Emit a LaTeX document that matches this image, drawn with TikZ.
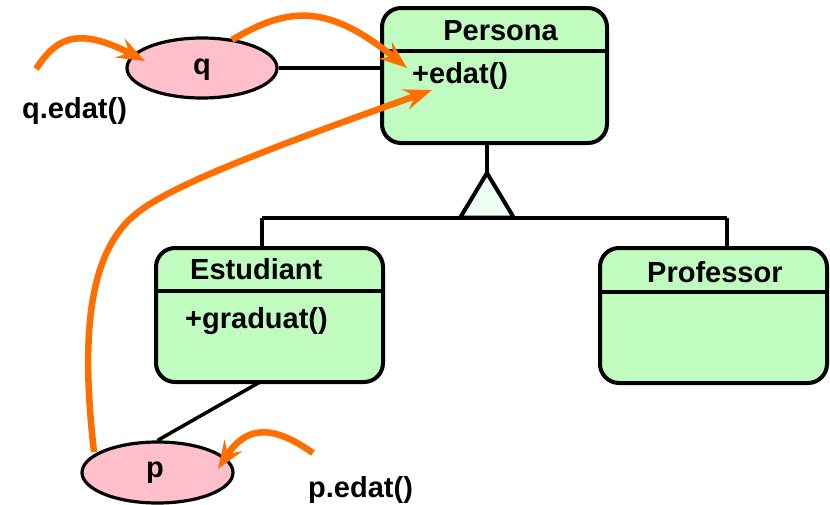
\documentclass[tikz,border=0pt]{standalone}
\usepackage{fontspec}
\setmainfont{Liberation Sans}
\usetikzlibrary{arrows.meta,shapes.geometric}
\definecolor{clsfill}{RGB}{192,252,192}
\definecolor{objfill}{RGB}{255,192,203}
\definecolor{trifill}{RGB}{240,255,244}
\definecolor{callcol}{RGB}{255,110,0}
\begin{document}
\begin{tikzpicture}[x=1pt,y=-1pt,
  every node/.style={font=\fontsize{29}{34}\selectfont\bfseries, inner sep=0pt},
  cls/.style={draw, line width=4pt, fill=clsfill, rounded corners=19pt, rectangle},
  obj/.style={draw, line width=3.2pt, fill=objfill, ellipse},
  link/.style={line width=3.5pt},
  call/.style={draw=callcol, line width=6.5pt, line cap=butt, -{Stealth[length=28pt,width=21pt,inset=10pt]}},
  lbl/.style={anchor=base west},
]
\useasboundingbox (0,0) rectangle (830,504);
% classes
\node[cls, minimum width=225pt, minimum height=135pt] (persona) at (494.5,75.5) {};
\draw[link] ([yshift=-45pt]persona.north west) -- ([yshift=-45pt]persona.north east);
\node[anchor=base] (personaT) at (500.5,40) {Persona};
\node[lbl] (edat) at (412,83) {+edat()};

\node[cls, minimum width=227pt, minimum height=134pt] (estud) at (269.5,315) {};
\draw[link] ([yshift=-45pt]estud.north west) -- ([yshift=-45pt]estud.north east);
\node[lbl] (estudT) at (190,279) {Estudiant};
\node[lbl] (grad) at (185,328) {+graduat()};

\node[cls, minimum width=227pt, minimum height=135pt] (prof) at (713.5,315.5) {};
\draw[link] ([yshift=-46pt]prof.north west) -- ([yshift=-46pt]prof.north east);
\node[lbl] (profT) at (647,282) {Professor};

% inheritance
\node[isosceles triangle, isosceles triangle apex angle=62,
  shape border rotate=90, minimum height=44pt, inner sep=0pt, anchor=apex] (tri) at (487,173) {};
\coordinate (hl) at (262,218);
\coordinate (hr) at (727,218);
\draw[link] (persona.south -| tri.apex) -- (tri.apex);
\draw[link] (hl) -- (hr);
\draw[link] (hl) -- (hl |- estud.north);
\draw[link] (hr) -- (hr |- prof.north);
\draw[line width=4pt, fill=trifill, line join=miter] (tri.apex) -- (tri.left corner) -- (tri.right corner) -- cycle;

% objects
\node[obj, minimum width=150pt, minimum height=60pt] (q) at (202,68) {};
\node[anchor=base] at (202,74) {q};
\node[obj, minimum width=151pt, minimum height=61pt] (p) at (157.5,472.5) {};
\node[anchor=base] at (155,477) {p};
\draw[link] (q.east) -- (q.east -| persona.west);
\draw[link] (p.north) -- (260,382);

% labels
\node[lbl] (qcall) at (22,118) {q.edat()};
\node[lbl] (pcall) at (308,497) {p.edat()};

% calls
\coordinate (s1) at (36,69);
\coordinate (t1) at (145,61);
\draw[call] (s1) .. controls (55,40) and (75,25) .. (t1);
\coordinate (s2) at (232,40);
\coordinate (t2) at (407,68);
\draw[call] (s2) .. controls (290,5) and (330,5) .. (t2);
\coordinate (s3) at (94,452);
\coordinate (t3) at (432,90);
\draw[call] (s3) .. controls (80,330) and (90,250) .. (137,213) .. controls (170,187) and (250,155) .. (t3);
\coordinate (s4) at (313,453);
\coordinate (t4) at (218,469);
\draw[call] (s4) .. controls (280,430) and (250,420) .. (t4);
\end{tikzpicture}
\end{document}
